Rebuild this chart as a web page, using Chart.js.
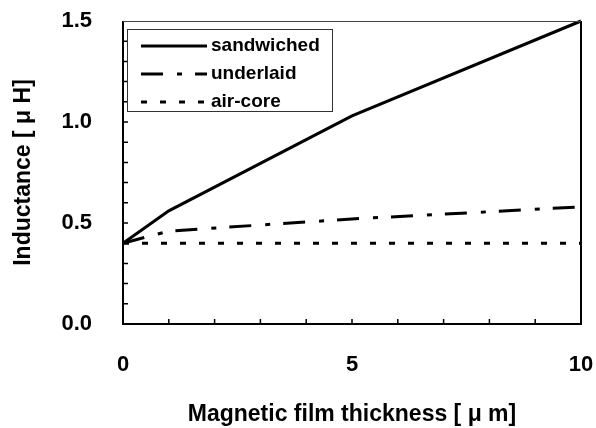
<!DOCTYPE html>
<html>
<head>
<meta charset="utf-8">
<script src="https://cdn.jsdelivr.net/npm/chart.js@4/dist/chart.umd.min.js"></script>
<style>
  body { margin: 0; background: #fff; }
</style>
</head>
<body>
<canvas id="graph" width="596" height="428"></canvas>
<script>
const thickness = [0, 1, 5, 10];
const sandwiched = [0.40, 0.56, 1.03, 1.50];
const underlaid = [0.40, 0.46, 0.52, 0.58];
const airCore = [0.40, 0.40, 0.40, 0.40];
const seriesNames = ["sandwiched", "underlaid", "air-core"];

const family = "'Liberation Sans', Arial, sans-serif";

// box round the plot, inward ticks and the legend inside the plot
const frame = {
  id: "frame",
  afterDraw(chart) {
    const ctx = chart.ctx;
    const a = chart.chartArea;
    const xs = chart.scales.x;
    const ys = chart.scales.y;
    ctx.save();
    ctx.strokeStyle = "#000";

    ctx.lineWidth = 1.5;
    ctx.beginPath();
    for (let v = 1; v < 10; v++) {
      const px = xs.getPixelForValue(v);
      ctx.moveTo(px, a.bottom);
      ctx.lineTo(px, a.bottom - 5);
    }
    for (let i = 1; i < 15; i++) {
      const py = ys.getPixelForValue(i / 10);
      ctx.moveTo(a.left, py);
      ctx.lineTo(a.left + 5, py);
    }
    ctx.stroke();

    ctx.lineWidth = 2;
    ctx.beginPath();
    ctx.moveTo(a.left, a.top);
    ctx.lineTo(a.left, a.bottom);
    ctx.lineTo(a.right, a.bottom);
    ctx.lineTo(a.right, a.top);
    ctx.stroke();
    ctx.lineWidth = 1;
    ctx.strokeStyle = "#444";
    ctx.beginPath();
    ctx.moveTo(a.left, a.top + 0.5);
    ctx.lineTo(a.right, a.top + 0.5);
    ctx.stroke();

    // legend
    const bx = a.left + 4, by = a.top + 8, bw = 205, bh = 82;
    ctx.fillStyle = "#fff";
    ctx.fillRect(bx, by, bw, bh);
    ctx.strokeStyle = "#333";
    ctx.lineWidth = 1;
    ctx.strokeRect(bx + 0.5, by + 0.5, bw, bh);
    ctx.font = "bold 19px " + family;
    ctx.textBaseline = "middle";
    ctx.fillStyle = "#000";
    chart.data.datasets.forEach((ds, i) => {
      const ly = by + 17 + i * 28;
      ctx.strokeStyle = "#000";
      ctx.lineWidth = ds.borderWidth;
      ctx.setLineDash(ds.borderDash || []);
      ctx.beginPath();
      ctx.moveTo(bx + 14, ly);
      ctx.lineTo(bx + 80, ly);
      ctx.stroke();
      ctx.setLineDash([]);
      ctx.fillText(ds.label, bx + 84, ly);
    });
    ctx.restore();
  }
};

new Chart(document.getElementById("graph"), {
  type: "line",
  data: {
    labels: thickness,
    datasets: [
      {
        label: seriesNames[0],
        data: thickness.map((t, i) => ({ x: t, y: sandwiched[i] })),
        borderColor: "#000",
        borderWidth: 3,
        pointRadius: 0,
      },
      {
        label: seriesNames[1],
        data: thickness.map((t, i) => ({ x: t, y: underlaid[i] })),
        borderColor: "#000",
        borderWidth: 3,
        borderDash: [22, 14, 5, 13],
        pointRadius: 0,
      },
      {
        label: seriesNames[2],
        data: thickness.map((t, i) => ({ x: t, y: airCore[i] })),
        borderColor: "#000",
        borderWidth: 3,
        borderDash: [6, 13],
        pointRadius: 0,
      },
    ],
  },
  options: {
    responsive: false,
    animation: false,
    devicePixelRatio: 1,
    clip: false,
    layout: {
      padding: { left: 0, top: 21, right: 15, bottom: 0 },
    },
    plugins: {
      legend: { display: false },
      tooltip: { enabled: false },
    },
    scales: {
      x: {
        type: "linear",
        min: 0,
        max: 10,
        grid: { display: false, drawTicks: false },
        border: { display: false },
        ticks: {
          stepSize: 5,
          padding: 28,
          color: "#000",
          font: { family: family, size: 22, weight: "bold" },
        },
        title: {
          display: true,
          text: "Magnetic film thickness [ μ m]",
          color: "#000",
          padding: { top: 0, bottom: 0 },
          font: { family: family, size: 23, weight: "bold" },
        },
        afterFit(scale) {
          scale.height = 104;
          scale.paddingLeft = 0;
          scale.paddingRight = 0;
        },
      },
      y: {
        min: 0,
        max: 1.5,
        grid: { display: false, drawTicks: false },
        border: { display: false },
        ticks: {
          stepSize: 0.5,
          padding: 31,
          color: "#000",
          font: { family: family, size: 22, weight: "bold" },
          callback: (v) => v.toFixed(1),
        },
        title: {
          display: true,
          text: "Inductance [ μ H]",
          color: "#000",
          padding: { top: 10, bottom: 0 },
          font: { family: family, size: 23, weight: "bold" },
        },
        afterFit(scale) {
          scale.width = 123;
          scale.paddingTop = 0;
          scale.paddingBottom = 0;
        },
      },
    },
  },
  plugins: [frame],
});
</script>
</body>
</html>
